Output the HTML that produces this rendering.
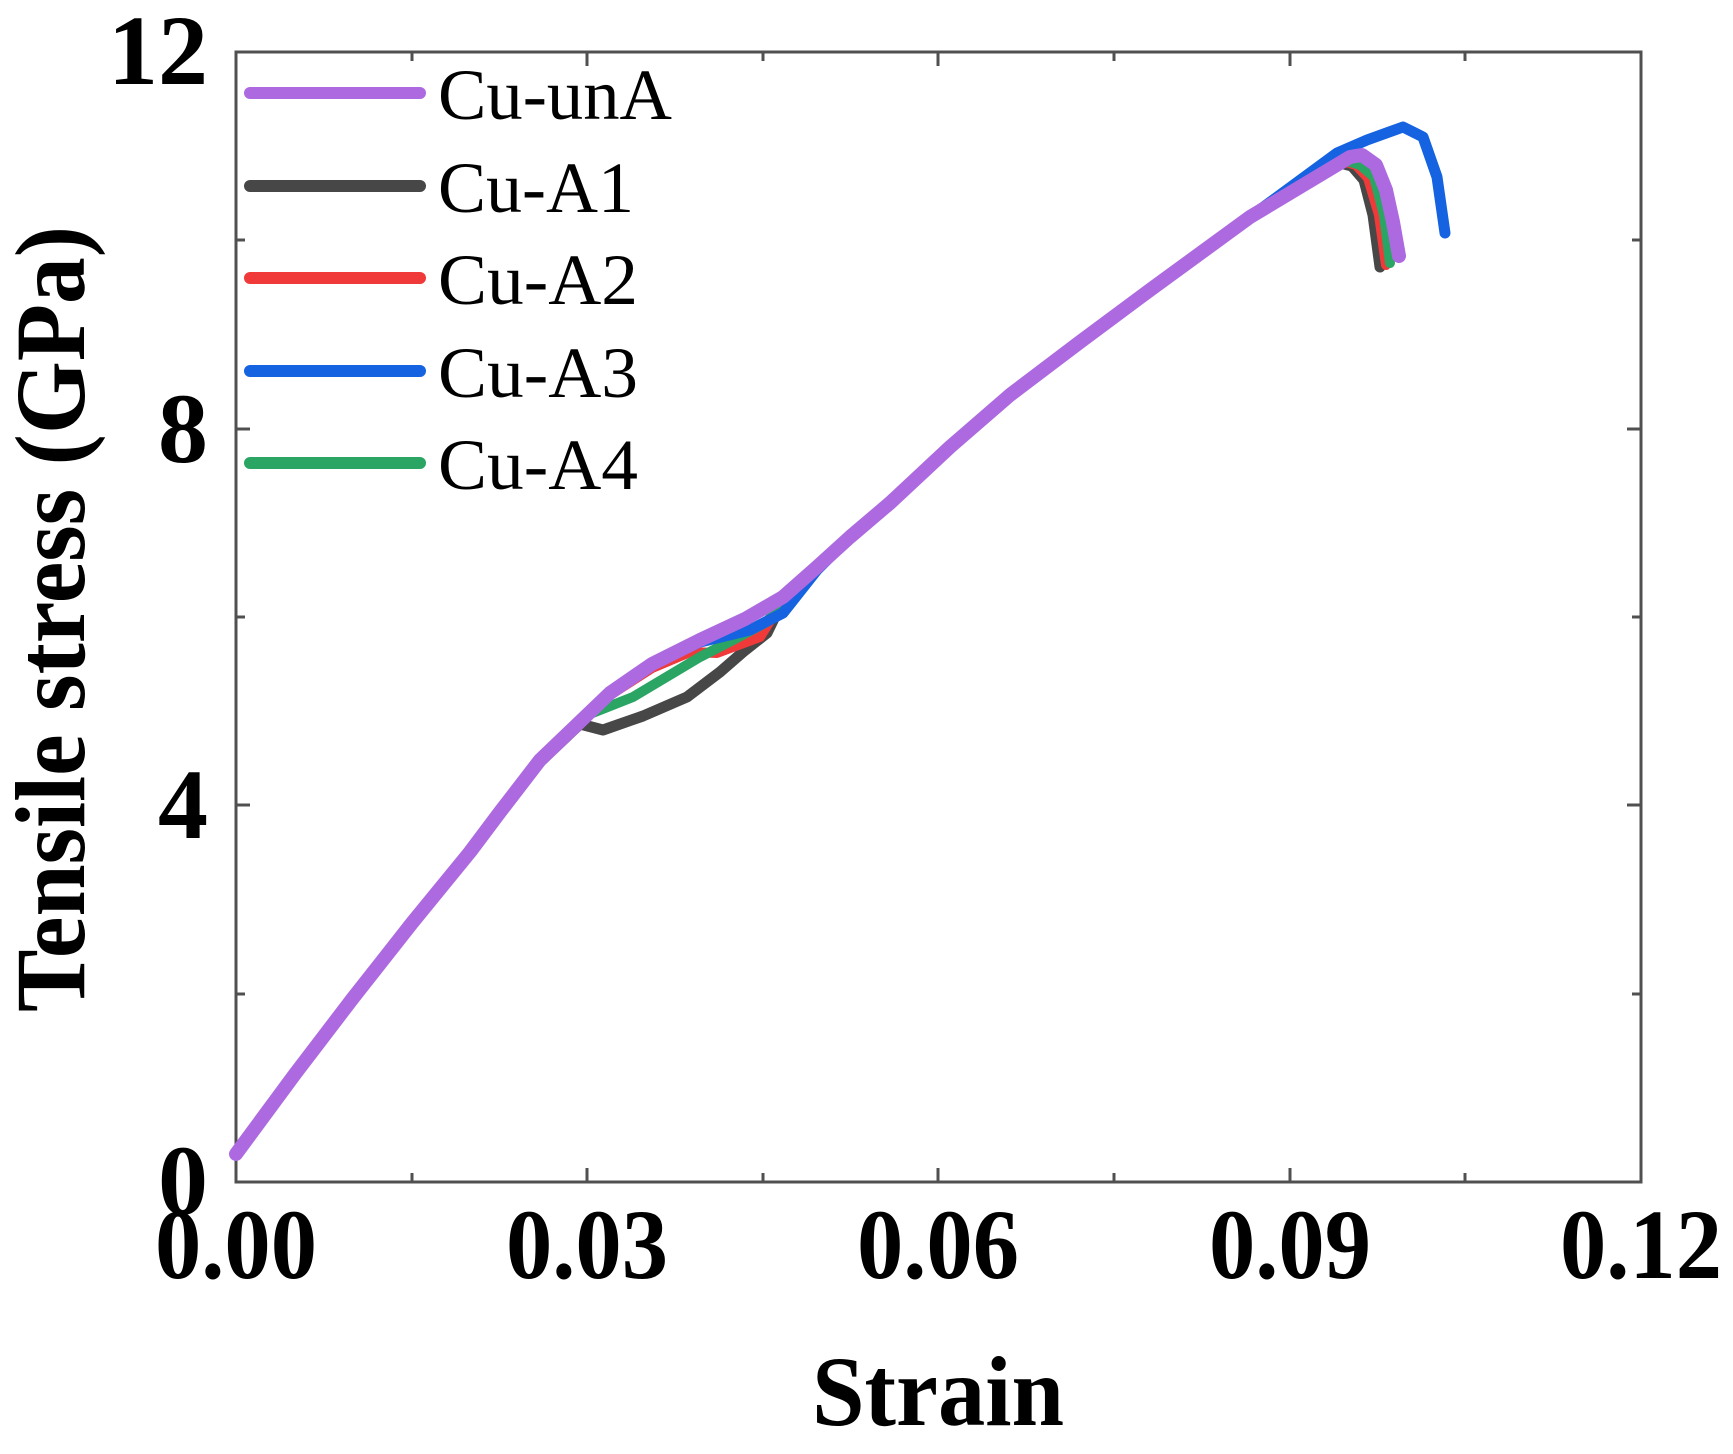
<!DOCTYPE html>
<html><head><meta charset="utf-8"><style>
html,body{margin:0;padding:0;background:#fff;}
svg{display:block;}
text{font-family:"Liberation Serif",serif;}
</style></head><body>
<svg width="1733" height="1454" viewBox="0 0 1733 1454" xmlns="http://www.w3.org/2000/svg">
<rect width="1733" height="1454" fill="#fff"/>
<g stroke="#505050" stroke-width="3" fill="none">
<rect x="236" y="52" width="1405" height="1130"/>
<path d="M236,1182v-14 M587,1182v-14 M938,1182v-14 M1290,1182v-14 M1641,1182v-14 M412,1182v-9 M763,1182v-9 M1114,1182v-9 M1465,1182v-9"/>
<path d="M587,52v14 M938,52v14 M1290,52v14 M412,52v9 M763,52v9 M1114,52v9 M1465,52v9"/>
<path d="M236,805h14 M236,429h14 M236,994h9 M236,617h9 M236,240h9"/>
<path d="M1641,805h-14 M1641,429h-14 M1641,994h-9 M1641,617h-9 M1641,240h-9"/>
</g>
<g fill="none" stroke-linecap="round" stroke-linejoin="round">
<polyline stroke="#474747" stroke-width="11" points="236,1154 295,1074 353,998 412,923 470,852 500,814 540,762 580,724 603,730 643,716 687,697 720,672 743,652 767,633 783,600 817,567 850,537 890,503 950,447 1010,395 1080,342 1150,290 1250,217 1340,163 1352,166 1364,180 1373,215 1380,267"/>
<polyline stroke="#f03a3a" stroke-width="10" points="236,1154 295,1074 353,998 412,923 470,852 500,814 540,762 610,695 652,668 690,652 717,653 760,637 783,600 817,567 850,537 890,503 950,447 1010,395 1080,342 1150,290 1250,217 1342,161 1356,165 1368,178 1379,215 1386,265"/>
<polyline stroke="#2aa564" stroke-width="10" points="236,1154 295,1074 353,998 412,923 470,852 500,814 540,762 590,714 633,697 700,657 733,640 767,622 783,600 817,567 850,537 890,503 950,447 1010,395 1080,342 1150,290 1250,217 1344,160 1360,165 1374,177 1384,215 1390,263"/>
<polyline stroke="#1563e0" stroke-width="11" points="236,1154 295,1074 353,998 412,923 470,852 500,814 540,762 610,693 652,664 700,642 750,630 783,613 817,570 850,537 890,503 950,447 1010,395 1080,342 1150,290 1250,217 1337,153 1367,140 1403,127 1423,137 1437,177 1445,233"/>
<polyline stroke="#ad6ae0" stroke-width="14" points="236,1154 295,1074 353,998 412,923 470,852 500,812 540,760 610,693 652,664 700,640 745,619 783,597 817,567 850,537 890,503 950,447 1010,395 1080,342 1150,290 1250,217 1350,157 1362,155 1376,165 1386,190 1393,222 1399,256"/>
</g>
<g stroke-width="12" stroke-linecap="round">
<line x1="250" y1="93" x2="420" y2="93" stroke="#ad6ae0"/>
<line x1="250" y1="186" x2="420" y2="186" stroke="#474747"/>
<line x1="250" y1="278" x2="420" y2="278" stroke="#f03a3a"/>
<line x1="250" y1="371" x2="420" y2="371" stroke="#1563e0"/>
<line x1="250" y1="463" x2="420" y2="463" stroke="#2aa564"/>
</g>
<g font-size="72" fill="#000">
<text x="438" y="119" textLength="234" lengthAdjust="spacingAndGlyphs">Cu-unA</text>
<text x="438" y="212" textLength="196" lengthAdjust="spacingAndGlyphs">Cu-A1</text>
<text x="438" y="304" textLength="200" lengthAdjust="spacingAndGlyphs">Cu-A2</text>
<text x="438" y="397" textLength="200" lengthAdjust="spacingAndGlyphs">Cu-A3</text>
<text x="438" y="489" textLength="200" lengthAdjust="spacingAndGlyphs">Cu-A4</text>
</g>
<g font-size="100" font-weight="bold" fill="#000">
<text x="208" y="84" text-anchor="end">12</text>
<text x="208" y="462" text-anchor="end">8</text>
<text x="208" y="838" text-anchor="end">4</text>
<text x="208" y="1214" text-anchor="end">0</text>
<text x="236" y="1278" text-anchor="middle" textLength="162" lengthAdjust="spacingAndGlyphs">0.00</text>
<text x="587" y="1278" text-anchor="middle" textLength="162" lengthAdjust="spacingAndGlyphs">0.03</text>
<text x="938" y="1278" text-anchor="middle" textLength="162" lengthAdjust="spacingAndGlyphs">0.06</text>
<text x="1290" y="1278" text-anchor="middle" textLength="162" lengthAdjust="spacingAndGlyphs">0.09</text>
<text x="1641" y="1278" text-anchor="middle" textLength="162" lengthAdjust="spacingAndGlyphs">0.12</text>
</g>
<text x="938" y="1425" text-anchor="middle" font-size="100" font-weight="bold" textLength="252" lengthAdjust="spacingAndGlyphs">Strain</text>
<text transform="translate(84,619) rotate(-90)" x="0" y="0" text-anchor="middle" font-size="100" font-weight="bold" textLength="786" lengthAdjust="spacingAndGlyphs">Tensile stress (GPa)</text>
</svg>
</body></html>
